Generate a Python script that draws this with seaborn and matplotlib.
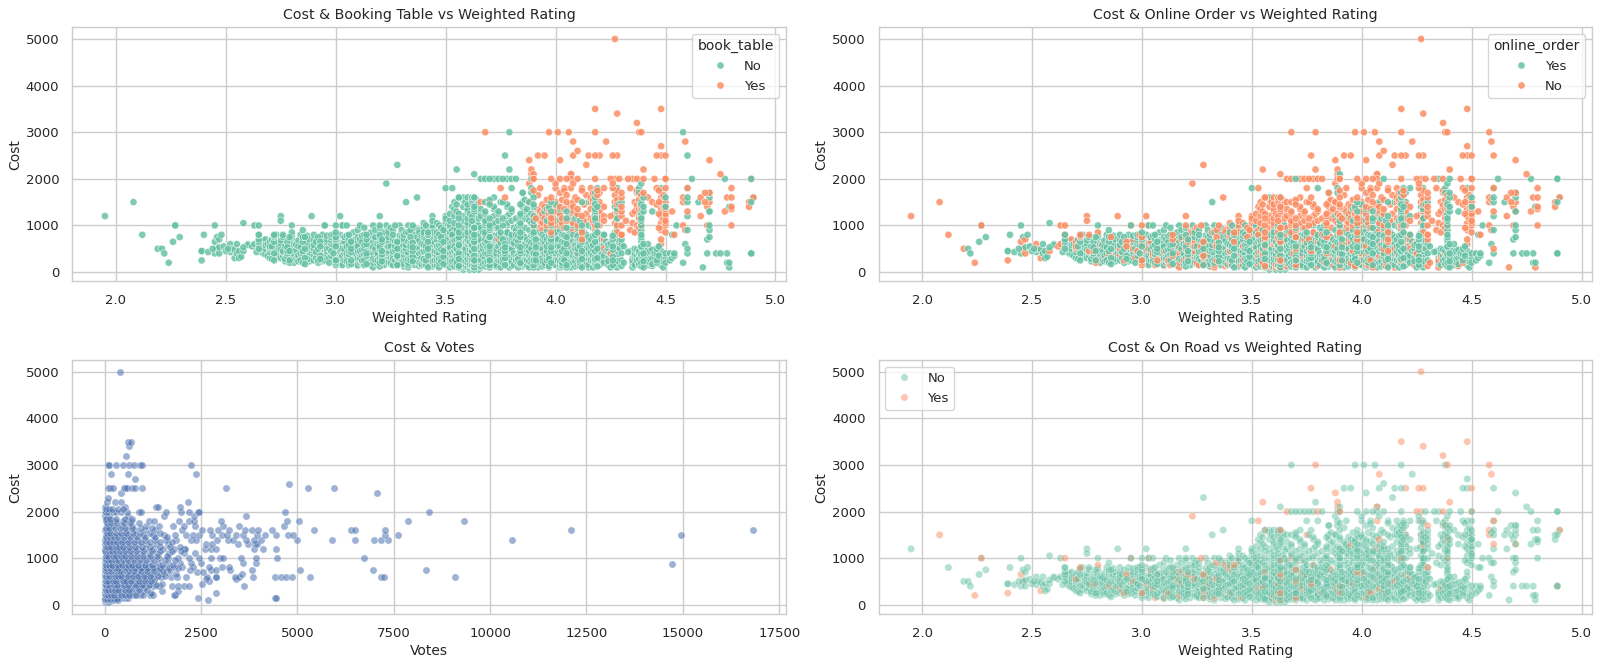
#Importar las librerías necesarias.
import pandas as pd
import matplotlib
matplotlib.use("Agg")
import matplotlib.pyplot as plt
import seaborn as sns

# Ratings read per cost level, one dict per (book_table, online_order, on_road) combination.
nyn_ratings = {
    50: [3.58, 3.61, 3.63, 3.65],
    100: [3.42, 3.47, 3.52, 3.56, 3.6, 3.63, 3.66, 3.7, 3.75, 3.79, 3.83, 3.88, 3.92, 3.97, 4.02, 4.07, 4.12, 4.17, 4.25, 4.28, 4.4, 4.49],
    150: [3.03, 3.1, 3.16, 3.22, 3.28, 3.36, 3.41, 3.46, 3.5, 3.55, 3.59, 3.62, 3.65, 3.69, 3.73, 3.77, 3.81, 3.86, 3.9, 3.95, 4.0, 4.05, 4.1, 4.15, 4.2, 4.26, 4.36, 4.42, 4.48],
    200: [2.81, 2.85, 2.92, 2.97, 3.02, 3.06, 3.11, 3.15, 3.2, 3.24, 3.29, 3.33, 3.38, 3.43, 3.47, 3.52, 3.57, 3.6, 3.64, 3.68, 3.72, 3.76, 3.8, 3.84, 3.89, 3.93, 3.98, 4.03, 4.08, 4.13, 4.18, 4.22, 4.27, 4.35, 4.39, 4.43, 4.5, 4.58, 4.78, 4.79],
    250: [2.72, 2.79, 2.84, 2.9, 2.95, 3.0, 3.04, 3.09, 3.13, 3.18, 3.23, 3.27, 3.32, 3.36, 3.41, 3.45, 3.5, 3.54, 3.58, 3.62, 3.66, 3.7, 3.74, 3.78, 3.82, 3.87, 3.91, 3.96, 4.01, 4.06, 4.11, 4.16, 4.21, 4.26, 4.3, 4.37, 4.41, 4.46, 4.52],
    300: [2.56, 2.7, 2.75, 2.8, 2.86, 2.91, 2.96, 3.01, 3.05, 3.1, 3.15, 3.2, 3.25, 3.3, 3.34, 3.39, 3.44, 3.48, 3.53, 3.57, 3.61, 3.64, 3.68, 3.72, 3.77, 3.81, 3.85, 3.9, 3.94, 3.99, 4.04, 4.09, 4.14, 4.19, 4.24, 4.28, 4.35, 4.4, 4.44, 4.5, 4.53],
    350: [2.69, 2.76, 2.83, 2.88, 2.93, 2.98, 3.03, 3.08, 3.12, 3.17, 3.22, 3.26, 3.31, 3.37, 3.42, 3.46, 3.51, 3.55, 3.59, 3.63, 3.67, 3.71, 3.75, 3.79, 3.83, 3.88, 3.92, 3.97, 4.02, 4.07, 4.12, 4.17, 4.22, 4.27, 4.37, 4.42, 4.47, 4.54],
    400: [2.22, 2.45, 2.55, 2.67, 2.72, 2.78, 2.84, 2.89, 2.94, 2.99, 3.04, 3.09, 3.14, 3.19, 3.24, 3.29, 3.33, 3.38, 3.43, 3.47, 3.52, 3.56, 3.6, 3.64, 3.68, 3.73, 3.77, 3.81, 3.86, 3.9, 3.95, 4.0, 4.05, 4.1, 4.15, 4.2, 4.25, 4.3, 4.36, 4.4, 4.45, 4.5, 4.52, 4.54, 4.6, 4.69, 4.73, 4.75, 4.78, 4.89, 4.89],
    450: [2.39, 2.39, 2.5, 2.56, 2.66, 2.73, 2.79, 2.85, 2.9, 2.96, 3.01, 3.06, 3.11, 3.16, 3.21, 3.26, 3.31, 3.35, 3.4, 3.45, 3.49, 3.54, 3.58, 3.62, 3.66, 3.7, 3.75, 3.79, 3.84, 3.88, 3.93, 3.98, 4.03, 4.08, 4.13, 4.18, 4.23, 4.28, 4.34, 4.38, 4.43, 4.48],
    500: [2.21, 2.44, 2.51, 2.65, 2.68, 2.74, 2.8, 2.86, 2.92, 2.97, 3.02, 3.07, 3.13, 3.18, 3.23, 3.28, 3.32, 3.37, 3.42, 3.47, 3.51, 3.55, 3.59, 3.63, 3.67, 3.71, 3.76, 3.8, 3.85, 3.89, 3.94, 3.99, 4.04, 4.09, 4.14, 4.19, 4.24, 4.29, 4.36, 4.41, 4.46],
    550: [2.49, 2.66, 2.71, 2.77, 2.83, 2.89, 2.95, 3.0, 3.05, 3.1, 3.15, 3.2, 3.25, 3.3, 3.36, 3.41, 3.46, 3.5, 3.54, 3.58, 3.62, 3.66, 3.7, 3.74, 3.78, 3.83, 3.87, 3.92, 3.96, 4.01, 4.06, 4.11, 4.16, 4.21, 4.26, 4.31, 4.39, 4.47],
    600: [2.55, 2.6, 2.65, 2.69, 2.75, 2.81, 2.87, 2.93, 2.98, 3.03, 3.08, 3.14, 3.19, 3.24, 3.29, 3.34, 3.39, 3.44, 3.48, 3.52, 3.56, 3.6, 3.64, 3.68, 3.72, 3.77, 3.81, 3.86, 3.9, 3.95, 4.0, 4.05, 4.1, 4.15, 4.2, 4.25, 4.3, 4.4, 4.42, 4.59],
    650: [2.26, 2.65, 2.72, 2.78, 2.85, 2.91, 2.96, 3.01, 3.07, 3.12, 3.17, 3.22, 3.27, 3.33, 3.38, 3.43, 3.49, 3.53, 3.57, 3.61, 3.65, 3.69, 3.73, 3.78, 3.83, 3.88, 3.93, 3.98, 4.03, 4.08, 4.13, 4.18, 4.23, 4.28, 4.39],
    700: [2.65, 2.71, 2.8, 2.88, 2.94, 3.0, 3.06, 3.11, 3.16, 3.21, 3.26, 3.31, 3.36, 3.41, 3.46, 3.51, 3.55, 3.6, 3.64, 3.68, 3.73, 3.78, 3.82, 3.87, 3.91, 3.96, 4.01, 4.06, 4.11, 4.16, 4.21, 4.26, 4.39, 4.69],
    750: [2.29, 2.46, 2.76, 2.79, 2.85, 2.92, 2.98, 3.04, 3.1, 3.18, 3.24, 3.3, 3.37, 3.44, 3.5, 3.58, 3.63, 3.7, 3.75, 3.8, 3.85, 3.9, 3.95, 4.0, 4.05, 4.1, 4.15, 4.2, 4.28, 4.39, 4.7],
    800: [2.4, 2.48, 2.65, 2.73, 2.84, 2.9, 2.94, 2.98, 3.02, 3.06, 3.13, 3.2, 3.26, 3.31, 3.36, 3.42, 3.47, 3.52, 3.58, 3.63, 3.68, 3.74, 3.8, 3.85, 3.9, 3.94, 3.98, 4.03, 4.08, 4.14, 4.18, 4.22, 4.27, 4.39, 4.53],
    900: [2.85, 3.1, 3.18, 3.26, 3.3, 3.36, 3.43, 3.5, 3.55, 3.6, 3.66, 3.74, 3.82, 3.88, 3.96, 4.02, 4.07, 4.12, 4.18, 4.28, 4.39, 4.6, 4.7],
    1000: [2.27, 2.45, 2.8, 2.95, 3.03, 3.05, 3.11, 3.17, 3.23, 3.29, 3.33, 3.41, 3.47, 3.52, 3.62, 3.65, 3.72, 3.78, 3.83, 3.9, 3.98, 4.03, 4.08, 4.12, 4.15, 4.19, 4.28, 4.39, 4.55, 4.7],
    1050: [2.58],
    1100: [3.9, 3.96, 4.02, 4.07, 4.11, 4.18, 4.39],
    1200: [3.88, 3.94, 3.97, 4.02, 4.06, 4.1, 4.18, 4.28, 4.39, 4.6],
    1300: [3.92, 3.98, 4.05, 4.18, 4.28, 4.4, 4.44, 4.7],
    1400: [3.97, 4.19, 4.27, 4.4, 4.5, 4.79],
    1500: [3.32, 3.98, 4.12, 4.15, 4.18, 4.3, 4.39, 4.6, 4.65, 4.89],
    1600: [3.58, 3.63, 4.18, 4.4, 4.5, 4.6, 4.7, 4.9],
    1700: [3.85, 3.89, 4.18, 4.38, 4.7],
    1800: [3.5, 3.8, 3.89, 4.19, 4.28, 4.38, 4.48, 4.6],
    1900: [4.39],
    2000: [3.7, 4.62, 4.77, 4.89],
}
# Second pass over the dense band, between the levels above.
nyn_ratings_fill = {
    120: [3.2, 3.31, 3.44, 3.54, 3.59, 3.62, 3.68, 3.73, 3.78, 3.85, 3.94, 4.03, 4.09, 4.19, 4.27, 4.39],
    170: [2.86, 3.07, 3.14, 3.19, 3.25, 3.31, 3.39, 3.49, 3.57, 3.63, 3.67, 3.71, 3.79, 3.84, 3.92, 3.99, 4.06, 4.13, 4.18, 4.28, 4.38, 4.44],
    230: [2.77, 2.83, 2.88, 2.94, 3.05, 3.12, 3.21, 3.3, 3.35, 3.44, 3.48, 3.53, 3.59, 3.63, 3.69, 3.75, 3.8, 3.88, 3.94, 4.02, 4.09, 4.17, 4.24, 4.28, 4.4, 4.48],
    280: [2.71, 2.77, 2.82, 2.88, 2.93, 3.02, 3.11, 3.17, 3.26, 3.33, 3.4, 3.47, 3.52, 3.56, 3.6, 3.65, 3.71, 3.76, 3.83, 3.89, 3.97, 4.03, 4.12, 4.18, 4.27, 4.38, 4.43],
    330: [2.57, 2.73, 2.78, 2.87, 2.94, 3.02, 3.11, 3.19, 3.28, 3.35, 3.43, 3.49, 3.54, 3.6, 3.65, 3.7, 3.76, 3.82, 3.89, 3.96, 4.03, 4.1, 4.18, 4.26, 4.39, 4.45],
    380: [2.68, 2.74, 2.81, 2.87, 2.96, 3.06, 3.13, 3.21, 3.3, 3.36, 3.44, 3.5, 3.57, 3.61, 3.66, 3.71, 3.78, 3.85, 3.91, 3.99, 4.06, 4.14, 4.21, 4.28, 4.39, 4.46],
    430: [2.42, 2.52, 2.64, 2.7, 2.76, 2.82, 2.91, 2.98, 3.07, 3.15, 3.23, 3.32, 3.39, 3.46, 3.53, 3.59, 3.65, 3.72, 3.78, 3.85, 3.92, 4.01, 4.07, 4.16, 4.24, 4.33, 4.41],
    480: [2.54, 2.67, 2.75, 2.82, 2.88, 2.95, 3.04, 3.12, 3.2, 3.27, 3.34, 3.41, 3.48, 3.55, 3.61, 3.66, 3.73, 3.8, 3.87, 3.94, 4.02, 4.09, 4.17, 4.26, 4.37, 4.44],
    530: [2.47, 2.58, 2.7, 2.78, 2.84, 2.94, 3.01, 3.09, 3.17, 3.24, 3.35, 3.43, 3.52, 3.58, 3.64, 3.69, 3.77, 3.84, 3.91, 3.98, 4.07, 4.13, 4.21, 4.28, 4.39],
    580: [2.6, 2.68, 2.74, 2.82, 2.9, 2.99, 3.06, 3.13, 3.22, 3.32, 3.4, 3.47, 3.56, 3.62, 3.67, 3.72, 3.79, 3.86, 3.93, 4.0, 4.09, 4.17, 4.24, 4.28],
    630: [2.66, 2.73, 2.8, 2.87, 2.95, 3.04, 3.1, 3.2, 3.28, 3.35, 3.45, 3.51, 3.59, 3.63, 3.68, 3.75, 3.81, 3.89, 3.97, 4.04, 4.11, 4.2, 4.29],
    680: [2.67, 2.75, 2.83, 2.9, 2.98, 3.08, 3.15, 3.23, 3.3, 3.38, 3.48, 3.54, 3.6, 3.66, 3.72, 3.79, 3.85, 3.92, 4.0, 4.07, 4.14, 4.22, 4.29],
    780: [2.72, 2.8, 2.87, 2.96, 3.05, 3.12, 3.22, 3.29, 3.39, 3.46, 3.53, 3.6, 3.65, 3.72, 3.78, 3.83, 3.89, 3.97, 4.04, 4.1, 4.17, 4.26],
    850: [3.0, 3.08, 3.16, 3.24, 3.33, 3.4, 3.46, 3.52, 3.6, 3.67, 3.75, 3.84, 3.92, 4.0, 4.06, 4.13, 4.19, 4.27],
    950: [3.13, 3.2, 3.36, 3.44, 3.52, 3.62, 3.7, 3.81, 3.9, 3.99, 4.05, 4.1, 4.17, 4.28],
    1150: [3.92, 3.99, 4.05, 4.09, 4.18, 4.28, 4.39],
    1250: [3.93, 3.99, 4.08, 4.18, 4.27, 4.39],
    1350: [3.96, 4.02, 4.18, 4.28, 4.39],
    1450: [4.0, 4.18, 4.29, 4.39],
}
nnn_ratings = {
    100: [3.17, 3.33, 3.58, 3.64, 3.9, 4.05, 4.15, 4.35, 4.67, 4.79],
    150: [3.0, 3.13, 3.26, 3.39, 3.53, 3.61, 3.72, 3.87, 4.03, 4.24, 4.38],
    200: [2.79, 3.0, 3.12, 3.25, 3.4, 3.55, 3.66, 3.83, 3.95, 4.11, 4.31, 4.46],
    300: [2.83, 2.97, 3.09, 3.21, 3.36, 3.5, 3.62, 3.75, 3.92, 4.08, 4.21, 4.36],
    400: [2.47, 2.88, 3.05, 3.17, 3.3, 3.45, 3.57, 3.69, 3.84, 4.0, 4.16, 4.38],
    500: [2.19, 2.46, 2.53, 2.7, 2.9, 3.03, 3.2, 3.37, 3.52, 3.64, 3.78, 3.93, 4.1, 4.29, 4.6],
    600: [2.52, 2.63, 2.82, 3.0, 3.16, 3.34, 3.5, 3.6, 3.74, 3.91, 4.09, 4.24],
    700: [2.47, 2.68, 2.96, 3.14, 3.37, 3.5, 3.62, 3.76, 3.94, 4.1, 4.3],
    800: [2.12, 2.65, 2.76, 2.99, 3.14, 3.42, 3.53, 3.65, 3.82, 3.99, 4.22],
    900: [3.24, 3.38, 3.49, 3.53, 3.62, 3.7, 3.85, 4.0],
    1000: [2.63, 3.0, 3.2, 3.35, 3.44, 3.51, 3.56, 3.6, 3.64, 3.7, 3.76, 3.84],
    1100: [2.75, 3.44, 3.52, 3.58, 3.62, 3.68, 3.74, 3.8, 3.88],
    1200: [1.95, 2.75, 2.89, 3.02, 3.2, 3.44, 3.5, 3.54, 3.58, 3.62, 3.66, 3.72, 3.78, 3.84, 3.9],
    1300: [3.55, 3.6, 3.63, 3.68, 3.74, 3.8, 3.86],
    1400: [3.53, 3.58, 3.63, 3.72, 3.78, 3.85, 3.9],
    1500: [3.54, 3.59, 3.62, 3.64, 3.68, 3.76, 3.85, 3.88],
    1600: [3.37, 3.56, 3.6, 3.62, 3.72, 3.9],
    1700: [3.85],
    2000: [3.68, 3.72, 3.74, 3.76, 3.78, 3.82, 3.89],
    2100: [3.63],
    2200: [3.79],
    2300: [3.28],
    2500: [4.6],
}
# Second pass: orange in the online panel, green in the other two.
nnn_ratings_fill = {
    130: [3.1, 3.38, 3.56, 3.62, 3.66, 3.8, 3.97, 4.11, 4.3, 4.44],
    250: [2.8, 3.07, 3.19, 3.34, 3.46, 3.58, 3.7, 3.86, 4.0, 4.18, 4.35],
    350: [2.95, 3.14, 3.28, 3.44, 3.55, 3.64, 3.78, 3.9, 4.03, 4.2],
    450: [2.58, 2.76, 2.98, 3.1, 3.24, 3.4, 3.54, 3.66, 3.8, 3.96, 4.12],
    550: [2.62, 2.8, 2.93, 3.08, 3.27, 3.46, 3.56, 3.62, 3.72, 3.88, 4.02, 4.2],
    650: [2.7, 2.9, 3.04, 3.24, 3.42, 3.54, 3.6, 3.66, 3.8, 3.95, 4.12],
    750: [2.72, 2.86, 3.0, 3.2, 3.34, 3.48, 3.56, 3.62, 3.7, 3.84, 3.99],
    850: [3.22, 3.32, 3.44, 3.5, 3.56, 3.62, 3.68, 3.78, 3.9],
    950: [3.25, 3.4, 3.48, 3.54, 3.58, 3.63, 3.66, 3.74, 3.86],
    1050: [3.4, 3.46, 3.5, 3.54, 3.6, 3.64, 3.68, 3.72, 3.78, 3.84, 3.89],
    1150: [3.5, 3.56, 3.6, 3.65, 3.7, 3.76, 3.82, 3.86],
    1250: [3.52, 3.56, 3.61, 3.64, 3.68, 3.74, 3.79, 3.84, 3.89],
    1350: [3.54, 3.6, 3.63, 3.66, 3.72, 3.8, 3.87],
    1450: [3.55, 3.6, 3.64, 3.7, 3.78, 3.84, 3.9],
    1550: [3.58, 3.62, 3.64, 3.7, 3.86],
}
nny_ratings = {
    100: [3.61, 3.63],
    150: [3.33, 3.1],
    200: [2.24, 3.17, 3.6],
    250: [2.39, 3.0, 2.92],
    300: [2.54, 3.28, 3.75, 4.1],
    400: [2.85, 3.55, 3.9, 4.38, 4.89],
    500: [2.46, 2.96, 3.22, 3.7, 4.15],
    600: [3.3, 3.72, 4.22],
    700: [3.18, 3.56, 3.98],
    800: [2.72, 3.4],
    900: [3.34, 3.52],
    1000: [2.27, 2.65, 2.95, 3.03, 3.27, 3.68],
    1300: [3.95, 4.7],
    1500: [2.08, 3.75],
    1600: [3.56, 3.63],
    1800: [3.53],
    1900: [3.23],
    2000: [3.66, 3.8],
    2200: [3.55],
    2500: [3.77],
    3000: [3.79, 4.58],
}
# Orange clusters of the on road panel.
nny_ratings_fill = {
    150: [3.06, 3.28, 3.45, 3.7, 4.02],
    250: [3.12, 3.29, 3.4, 3.63, 3.82, 3.9, 4.04],
    350: [2.9, 3.05, 3.36, 3.53, 3.73, 3.88, 4.08, 4.2, 4.36],
    450: [2.78, 3.02, 3.18, 3.3, 3.62, 3.77, 3.96, 4.13],
    550: [2.7, 3.16, 3.24, 3.34, 3.64, 3.92, 4.06],
    650: [2.45, 2.93, 3.08, 3.21, 3.28, 3.63, 3.74, 4.01, 4.2],
    750: [3.04, 3.15, 3.4, 3.64, 3.7, 3.86],
    850: [2.8, 3.38, 3.42, 3.78],
    950: [3.44, 3.63, 3.72],
}
yyn_ratings = {
    1000: [4.02, 4.18, 4.28],
    1100: [4.05, 4.17],
    1200: [4.12, 4.22],
    1500: [4.08, 4.2, 4.28],
    1700: [4.2, 4.4],
    1800: [4.22],
    2000: [4.1, 4.35, 4.4, 4.89],
    2100: [3.9],
}
ynn_ratings = {
    400: [4.1, 4.25],
    500: [3.76, 4.22],
    600: [4.08, 4.48],
    700: [3.74, 4.12, 4.22, 4.48],
    800: [3.98, 4.2, 4.3, 4.54],
    900: [3.94, 4.08, 4.1, 4.34, 4.48, 4.59],
    1000: [3.9, 3.96, 4.0, 4.1, 4.2, 4.3, 4.37, 4.5, 4.58, 4.69, 4.8],
    1100: [3.93, 4.0, 4.13, 4.22, 4.32, 4.5],
    1200: [3.9, 3.98, 4.09, 4.25, 4.3, 4.38, 4.48, 4.5, 4.66],
    1300: [3.93, 4.0, 4.08, 4.2, 4.3, 4.36, 4.49, 4.53, 4.77],
    1400: [3.95, 4.02, 4.06, 4.22, 4.3, 4.37, 4.5, 4.69, 4.8, 4.88],
    1500: [3.66, 3.7, 3.88, 4.0, 4.05, 4.16, 4.17, 4.27, 4.36, 4.38, 4.44, 4.47, 4.5, 4.68, 4.7, 4.88],
    1600: [3.77, 3.98, 4.09, 4.16, 4.3, 4.42, 4.48, 4.66, 4.78, 4.8],
    1700: [4.02, 4.17, 4.37, 4.68, 4.7],
    1800: [3.75, 3.93, 4.0, 4.04, 4.12, 4.16, 4.26, 4.34, 4.46, 4.5, 4.8],
    1900: [3.88, 4.0, 4.08, 4.26],
    2000: [3.9, 3.98, 4.02, 4.05, 4.07, 4.18, 4.29, 4.33, 4.45, 4.5],
    2100: [4.75, 4.07],
    2300: [4.14],
    2400: [4.02, 4.7],
    2500: [3.92, 3.95, 4.08, 4.15, 4.18, 4.46, 4.48],
    2600: [4.1],
    2700: [4.48],
    2800: [4.23],
    3000: [3.68, 3.97, 4.01, 4.06, 4.18, 4.38],
}
# Second pass over the orange block of the booking panel.
ynn_ratings_fill = {
    850: [3.98, 4.12, 4.28, 4.36, 4.5],
    950: [3.92, 4.04, 4.18, 4.28, 4.38, 4.47, 4.49],
    1050: [3.94, 3.98, 4.03, 4.08, 4.13, 4.17, 4.27, 4.35, 4.48, 4.5],
    1150: [3.91, 3.95, 3.98, 4.03, 4.06, 4.16, 4.2, 4.28, 4.38, 4.49],
    1250: [3.94, 3.97, 4.02, 4.1, 4.14, 4.2, 4.27, 4.35, 4.47, 4.5],
    1350: [3.92, 3.97, 4.04, 4.1, 4.16, 4.28, 4.38, 4.48, 4.5, 4.8],
    1450: [3.94, 3.99, 4.07, 4.13, 4.2, 4.28, 4.37, 4.46, 4.49],
    1550: [3.96, 4.03, 4.1, 4.17, 4.28, 4.38, 4.49, 4.59],
    1650: [3.92, 4.05, 4.14, 4.19, 4.27, 4.39, 4.49],
    1750: [3.9, 4.04, 4.12, 4.19, 4.28, 4.37, 4.47],
}
yny_ratings = {
    800: [4.06, 4.3],
    1000: [4.18, 4.39],
    1200: [4.07, 4.28],
    1300: [4.28, 4.6],
    1400: [4.08, 4.39],
    1500: [4.2, 4.27, 4.49, 4.58],
    1600: [4.58, 4.9],
    1700: [4.3, 4.38],
    1800: [4.07, 4.27, 4.6],
    2000: [3.9, 4.25, 4.27, 4.37, 4.5],
    2100: [4.07, 3.89],
    2200: [3.89, 4.4],
    2400: [3.88],
    2500: [4.2, 4.26, 4.28, 4.5],
    2800: [4.08, 4.59],
    3000: [4.39],
    3200: [4.37],
    3400: [4.28],
    3500: [4.18, 4.48],
    5000: [4.27],
}

# Votes read per cost level for the Cost & Votes panel.
votes_by_cost = {
    50: [10, 40, 70, 110],
    100: [10, 30, 60, 100, 150, 200, 280, 350, 2680],
    150: [10, 40, 80, 130, 190, 260, 340, 430, 520, 620, 2430, 4430, 4450],
    200: [20, 50, 90, 140, 210, 290, 370, 470, 560, 660, 760, 930, 1190, 1250, 1800, 1840],
    250: [10, 60, 110, 180, 250, 330, 410, 500, 600, 710, 1200, 2900],
    300: [20, 40, 70, 120, 170, 240, 310, 400, 490, 590, 700, 830, 990, 1500, 1900],
    350: [10, 50, 100, 160, 230, 300, 380, 460, 550, 650, 760, 880, 1030],
    400: [30, 60, 100, 150, 210, 280, 360, 450, 540, 640, 750, 880, 1040, 1260, 1400, 1750, 1900, 2050, 2180, 3630],
    450: [20, 50, 90, 140, 200, 270, 350, 430, 530, 620, 730, 860, 1010, 1180, 1490, 2520],
    500: [10, 40, 80, 130, 190, 260, 340, 420, 510, 610, 720, 840, 980, 1120, 1290, 2700],
    550: [30, 70, 120, 180, 250, 320, 400, 490, 590, 700, 820, 960, 1100, 1280, 2620, 3400],
    600: [20, 50, 90, 150, 220, 290, 370, 460, 560, 670, 790, 930, 1090, 1270, 1470, 1720, 1880, 2110, 2650, 2890, 2900, 3380, 3480, 3840, 4430, 4580, 4700, 4850, 5340, 7180, 7250, 9100],
    650: [10, 60, 120, 190, 270, 350, 440, 540, 650, 780, 910, 1060, 1230, 1500, 1850, 3570],
    700: [30, 70, 130, 200, 280, 370, 470, 580, 700, 830, 980, 1150, 1350, 1620, 2400, 2560],
    750: [20, 60, 110, 170, 240, 330, 430, 530, 640, 760, 890, 1040, 1210, 1420, 1700, 2220, 2750, 2900, 3250, 3820, 5060, 6970, 8330],
    800: [10, 50, 100, 160, 230, 310, 400, 500, 610, 730, 860, 1000, 1160, 1340, 1550, 1800, 2020, 2300, 2720, 3040, 3230],
    900: [20, 70, 130, 210, 300, 410, 530, 660, 800, 960, 1150, 1380, 1650, 1950, 2240, 2500, 3590, 3920],
    1000: [10, 50, 110, 180, 260, 360, 470, 590, 720, 860, 1020, 1200, 1400, 1650, 1900, 2200, 2450, 2750, 3000, 3080, 3550, 3930, 4470, 6740],
    1100: [30, 80, 150, 240, 350, 470, 610, 770, 950, 1150, 1390, 1680, 2050, 2350],
    1200: [10, 60, 130, 210, 310, 420, 550, 700, 870, 1060, 1270, 1520, 1800, 2050, 2100, 2600, 2750, 2900, 3880, 4100, 4450],
    1300: [20, 90, 170, 270, 390, 520, 680, 860, 1070, 1330, 1650, 2620, 2780, 3460, 3730, 3900, 3960],
    1400: [10, 70, 150, 250, 370, 500, 660, 840, 1050, 1300, 1600, 1850, 2250, 2380, 2930, 3200, 3320, 3660, 3880, 4070, 4980, 5910, 6490, 7000, 7170, 7340, 10560],
    1500: [30, 100, 200, 320, 460, 620, 800, 1010, 1260, 1530, 1820, 2120, 2300, 2450, 2800, 3050, 3170, 3400, 3600, 3950, 4150, 4440, 4750, 4880, 7270, 7600, 14950],
    1600: [10, 60, 140, 580, 800, 1050, 1300, 2020, 2520, 2730, 2950, 3220, 3640, 3830, 3980, 4350, 5430, 6400, 6500, 7270, 12100, 16830],
    1700: [80, 210, 450, 720, 1080, 1400, 1780, 2050, 2350, 3060, 3500, 4650],
    1800: [40, 130, 280, 470, 690, 1160, 1290, 1930, 2200, 2330, 3030, 4730, 5040, 7880, 9320],
    1900: [20, 110, 620, 1550, 2310, 3660],
    2000: [10, 40, 90, 230, 300, 430, 580, 900, 940, 1590, 1980, 2200, 2420, 2450, 4680, 8420],
    2100: [10, 520, 1340, 1380, 1950],
    2200: [60, 280, 430, 2160],
    2300: [80],
    2400: [440, 7060],
    2500: [90, 130, 220, 500, 540, 590, 710, 780, 980, 3150, 5280, 5950],
    2600: [4780],
    2700: [790],
    2800: [170, 620, 2380],
    3000: [80, 110, 290, 470, 630, 770, 920, 980, 2250],
    3200: [570],
    3400: [640],
    3500: [620, 680],
    880: [14720],
    5000: [410],
}
# Second pass over the dark column near zero votes.
votes_by_cost_fill = {
    120: [20, 70, 130, 240, 320],
    220: [30, 80, 170, 250, 420, 520, 640, 810, 1000],
    320: [30, 90, 200, 270, 350, 530, 640, 900, 1090],
    420: [40, 120, 240, 320, 500, 600, 810, 960, 1150, 1330],
    520: [30, 100, 220, 300, 480, 560, 680, 900, 1060, 1210],
    620: [40, 110, 260, 340, 420, 620, 740, 860, 1020, 1180, 1380, 1560],
    720: [30, 90, 160, 320, 410, 640, 760, 940, 1100, 1280, 1520],
    780: [40, 140, 280, 360, 560, 680, 800, 950, 1110, 1270, 1450, 1680, 1900],
    850: [30, 110, 190, 350, 460, 600, 720, 880, 1060, 1240, 1480, 1770],
    950: [40, 100, 170, 260, 350, 490, 620, 760, 920, 1080, 1290, 1560, 1820],
    1050: [30, 90, 220, 310, 420, 540, 680, 830, 990, 1170, 1360, 1610],
    1150: [20, 110, 190, 290, 400, 520, 660, 820, 1000, 1220, 1450, 1760, 1980],
    1250: [40, 100, 180, 290, 380, 490, 640, 790, 960, 1170, 1430, 1700, 1950],
    1350: [30, 120, 220, 330, 460, 600, 760, 950, 1190, 1450, 1740],
    1450: [50, 130, 240, 360, 500, 660, 830, 1060, 1320, 1610],
    1550: [60, 150, 290, 420, 560, 740, 930, 1180, 1450],
    1650: [40, 120, 260, 400, 540, 720, 950, 1230],
    1750: [70, 180, 330, 500, 650, 900],
    1850: [50, 150, 300, 520, 720],
    2050: [30, 120, 200, 340, 470],
}

# Arma la tabla de puntos (rating, cost) con las tres categorías.
groups = [
    (nyn_ratings, "No", "Yes", "No"),
    (nyn_ratings_fill, "No", "Yes", "No"),
    (nnn_ratings, "No", "No", "No"),
    (nnn_ratings_fill, "No", "No", "No"),
    (nny_ratings, "No", "No", "Yes"),
    (nny_ratings_fill, "No", "No", "Yes"),
    (yyn_ratings, "Yes", "Yes", "No"),
    (ynn_ratings, "Yes", "No", "No"),
    (ynn_ratings_fill, "Yes", "No", "No"),
    (yny_ratings, "Yes", "No", "Yes"),
]
rows = []
for table, book, online, road in groups:
    for cost, ratings in table.items():
        for r in ratings:
            rows.append((r, cost, book, online, road))
df = pd.DataFrame(rows, columns=["rating", "cost", "book_table", "online_order", "on_road"])
# Mezcla el orden de dibujo sin tocar los valores, las categorías quedan intercaladas.
df["orden"] = (df["rating"] * 100).round().astype(int) % 7 + df["cost"] % 300 / 1000
df = df.sort_values("orden")

votes_df = pd.DataFrame(
    [(v, cost) for table in (votes_by_cost, votes_by_cost_fill) for cost, votes in table.items() for v in votes],
    columns=["votes", "cost"],
)

sns.set_theme(style="whitegrid")
plt.rcParams.update({
    "font.size": 10, "axes.titlesize": 10.2, "axes.labelsize": 10,
    "xtick.labelsize": 9.5, "ytick.labelsize": 9.5,
    "legend.fontsize": 9.5, "legend.title_fontsize": 10,
    "grid.linewidth": 1.0, "axes.linewidth": 1.0, "axes.labelpad": 2.5,
})

fig, axes = plt.subplots(2, 2, figsize=(16, 6.67), dpi=100)
fig.subplots_adjust(left=0.0453, right=0.995, top=0.9588, bottom=0.0795, wspace=0.13, hspace=0.311)
size = 27

sns.scatterplot(data=df, x="rating", y="cost", hue="book_table", hue_order=["No", "Yes"],
                palette="Set2", alpha=0.85, s=size, ax=axes[0, 0])
axes[0, 0].set_title("Cost & Booking Table vs Weighted Rating")
axes[0, 0].set_xlabel("Weighted Rating")
axes[0, 0].set_ylabel("Cost")
sns.move_legend(axes[0, 0], "upper right")

sns.scatterplot(data=df, x="rating", y="cost", hue="online_order", hue_order=["Yes", "No"],
                palette="Set2", alpha=0.85, s=size, ax=axes[0, 1])
axes[0, 1].set_title("Cost & Online Order vs Weighted Rating")
axes[0, 1].set_xlabel("Weighted Rating")
axes[0, 1].set_ylabel("Cost")
sns.move_legend(axes[0, 1], "upper right")

sns.scatterplot(data=votes_df, x="votes", y="cost", alpha=0.55, s=size, ax=axes[1, 0])
axes[1, 0].set_title("Cost & Votes")
axes[1, 0].set_xlabel("Votes")
axes[1, 0].set_ylabel("Cost")

sns.scatterplot(data=df, x="rating", y="cost", hue="on_road", hue_order=["No", "Yes"],
                palette="Set2", alpha=0.5, s=size, ax=axes[1, 1])
axes[1, 1].set_title("Cost & On Road vs Weighted Rating")
axes[1, 1].set_xlabel("Weighted Rating")
axes[1, 1].set_ylabel("Cost")
axes[1, 1].legend(loc="upper left")

fig.savefig("out.png", dpi=100)
